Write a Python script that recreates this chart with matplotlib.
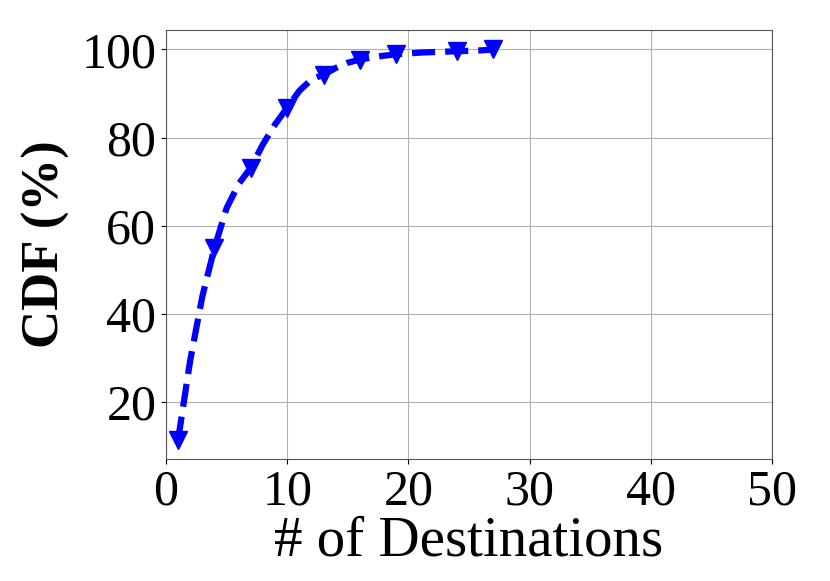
import matplotlib
matplotlib.use("Agg")
import matplotlib.pyplot as plt

x_dest = [1, 2, 3, 4, 5, 6, 7, 8, 9, 10, 11, 12, 13, 14, 15, 16, 17, 18, 19, 20, 21, 24, 25, 26, 27]
cdf_pct = [11.5, 29.5, 44.0, 55.0, 64.0, 69.5, 73.2, 78.5, 83.0, 86.8, 90.6, 93.2, 94.3,
           95.8, 97.0, 97.7, 98.2, 98.6, 98.9, 99.1, 99.3, 99.6, 99.7, 99.8, 100.0]
x_ticks = [0, 10, 20, 30, 40, 50]
y_ticks = [20, 40, 60, 80, 100]

plt.rcParams['font.family'] = ['Liberation Serif', 'DejaVu Serif']
fig = plt.figure(figsize=(8.3, 5.81), dpi=100)
ax = fig.add_axes([166/830, 1-459/581, (772-166)/830, (459-30)/581])
ax.plot(x_dest, cdf_pct, color='blue', linestyle='--', linewidth=4.5,
        marker='v', markersize=13, markevery=3)
ax.set_xlim(0, 50)
ax.set_xticks(x_ticks)
ax.set_yticks(y_ticks)
ax.grid(True, color='#b0b0b0', linewidth=0.8)
ax.set_axisbelow(True)
ax.tick_params(labelsize=36)
for s in ax.spines.values():
    s.set_color('#555555')
ax.set_xlabel('# of Destinations', fontsize=41, labelpad=0)
ax.set_ylabel('CDF (%)', fontsize=38, fontweight='bold', labelpad=8)
fig.savefig('out.png', dpi=100)
